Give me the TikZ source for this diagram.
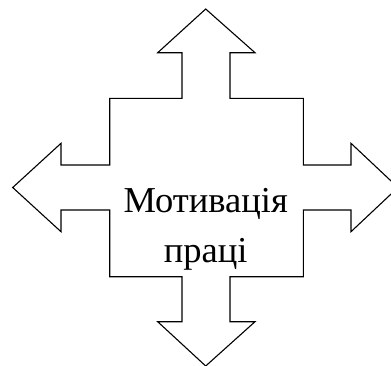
\documentclass[tikz,border=0pt]{standalone}
\usepackage{fontspec}
\setmainfont{Liberation Serif}
\begin{document}
\begin{tikzpicture}[x=1pt,y=-1pt,
  outline/.style={draw=black,line width=1.1pt,line join=miter,fill=white},
  label/.style={font=\fontsize{36.5}{50}\selectfont,align=center,inner sep=0pt}]
\useasboundingbox (0,0) rectangle (391,365);
\begin{scope}
\clip (0,0) rectangle (391,365);
\draw[outline]
  (205.7,9) -- (255,52.7) -- (230,52.7) -- (230,98.3) -- (303.3,98.3)
  -- (303.3,165) -- (351,165) -- (351,143.3) -- (398,187.5) -- (351,231.7)
  -- (351,210) -- (303.3,210) -- (303.3,276.7) -- (230,276.7) -- (230,321.7)
  -- (255,321.7) -- (205.7,366) -- (157.7,321.7) -- (182,321.7) -- (182,276.7)
  -- (109.7,276.7) -- (109.7,210) -- (61,210) -- (61,231.7) -- (12.7,187.5)
  -- (61,143.3) -- (61,165) -- (109.7,165) -- (109.7,98.3) -- (182,98.3)
  -- (182,52.7) -- (157.7,52.7) -- cycle;
\end{scope}
\node[label] (t) at (205.7,229.5) {Мотивація\\праці};
\end{tikzpicture}
\end{document}
